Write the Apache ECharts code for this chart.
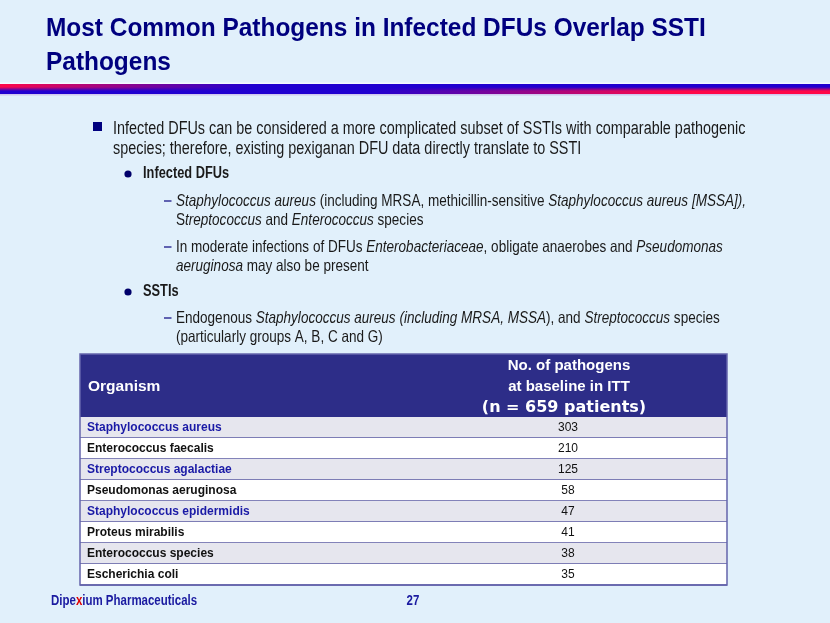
<!DOCTYPE html>
<html>
<head>
<meta charset="utf-8">
<script src="https://cdn.jsdelivr.net/npm/echarts@6/dist/echarts.min.js"></script>
<style>
html,body{margin:0;padding:0;background:#E1F0FB;}
#main{width:830px;height:623px;}
</style>
</head>
<body>
<div id="main"></div>
<script>
// ---- data ----
var organisms = [
  'Staphylococcus aureus',
  'Enterococcus faecalis',
  'Streptococcus agalactiae',
  'Pseudomonas aeruginosa',
  'Staphylococcus epidermidis',
  'Proteus mirabilis',
  'Enterococcus species',
  'Escherichia coli'
];
var pathogenCounts = [303, 210, 125, 58, 47, 41, 38, 35];
var headerLeft = 'Organism';
var headerRight = ['No. of pathogens', 'at baseline in ITT', '(n = 659 patients)'];
var titleLines = ['Most Common Pathogens in Infected DFUs Overlap SSTI', 'Pathogens'];

var SANS = '"Liberation Sans", Arial, sans-serif';
var NAVY = '#00007F';
var BODY = '#1A1A1A';

var chart = echarts.init(document.getElementById('main'));

function mix(a, b, t) {
  var pa = [parseInt(a.substr(1,2),16), parseInt(a.substr(3,2),16), parseInt(a.substr(5,2),16)];
  var pb = [parseInt(b.substr(1,2),16), parseInt(b.substr(3,2),16), parseInt(b.substr(5,2),16)];
  return 'rgb(' + pa.map(function(v,i){return Math.round(v + (pb[i]-v)*t);}).join(',') + ')';
}
function clamp(v){return Math.max(0, Math.min(1, v));}

var RED = '#FF0848', BLUE = '#2000D0';
var stripe = [];
var N = 83;
for (var i = 0; i < N; i++) {
  var t = (i + 0.5) / N;
  var topRed = clamp(1 - t / 0.3);
  var botRed = clamp((t - 0.45) / 0.35);
  var cTop = mix(BLUE, RED, topRed), cBot = mix(BLUE, RED, botRed);
  stripe.push({
    type: 'rect', silent: true,
    shape: {x: i * 10, y: 84, width: 10.5, height: 10},
    style: {fill: new echarts.graphic.LinearGradient(0,0,0,1,[
      {offset: 0, color: cTop},
      {offset: 0.3, color: cTop},
      {offset: 0.7, color: cBot},
      {offset: 1, color: cBot}
    ])}
  });
}

function makeRich(size) {
  return {i: {fontStyle: 'italic', fontFamily: SANS, fontSize: size, fill: BODY}};
}
function narrowText(x, y, text, size, scale, opts) {
  opts = opts || {};
  return {
    type: 'text', silent: true, x: x, y: y, scaleX: scale, z: 10,
    style: {text: text, fontFamily: SANS, fontSize: size, fontWeight: opts.bold ? 'bold' : 'normal',
      fill: opts.fill || BODY, align: opts.align || 'left', verticalAlign: 'middle', rich: opts.rich || makeRich(size)}
  };
}
function lvl1(y, text) { return narrowText(113, y, text, 18, 0.80); }
function lvl2(y, text) { return narrowText(143, y, text, 16, 0.80, {bold: true}); }
function lvl3(y, text) { return narrowText(176, y, text, 16.5, 0.82); }
function dash(y) {
  return {type: 'rect', silent: true, shape: {x: 164, y: y - 0.75, width: 7.5, height: 1.5}, style: {fill: '#333399'}};
}
function dot(y) {
  return {type: 'circle', silent: true, shape: {cx: 128, cy: y, r: 3.6}, style: {fill: '#00006A'}};
}

var graphics = [
  narrowText(46, 28.5, titleLines[0], 26.5, 0.922, {bold: true, fill: NAVY}),
  narrowText(46, 63, titleLines[1], 26.5, 0.922, {bold: true, fill: NAVY}),
  {type: 'rect', silent: true, shape: {x: 0, y: 82.5, width: 830, height: 1.5}, style: {fill: '#F4F8FF'}},
  {type: 'rect', silent: true, shape: {x: 0, y: 94, width: 830, height: 1.5}, style: {fill: '#D0C8EE'}},
  // level-1 bullet
  {type: 'rect', silent: true, shape: {x: 93, y: 122, width: 9, height: 9}, style: {fill: NAVY}},
  lvl1(129, 'Infected DFUs can be considered a more complicated subset of SSTIs with comparable pathogenic'),
  lvl1(149, 'species; therefore, existing pexiganan DFU data directly translate to SSTI'),
  dot(174), lvl2(174, 'Infected DFUs'),
  dash(201), lvl3(201, '{i|Staphylococcus aureus} (including MRSA, methicillin-sensitive {i|Staphylococcus aureus [MSSA]),}'),
  lvl3(220, 'S{i|treptococcus} and {i|Enterococcus} species'),
  dash(247), lvl3(247, 'In moderate infections of DFUs {i|Enterobacteriaceae}, obligate anaerobes and {i|Pseudomonas}'),
  lvl3(266, '{i|aeruginosa} may also be present'),
  dot(292), lvl2(292, 'SSTIs'),
  dash(318), lvl3(318, 'Endogenous {i|Staphylococcus aureus (including MRSA, MSSA}), and {i|Streptococcus} species'),
  lvl3(337, '(particularly groups A, B, C and G)'),
  // table header
  {type: 'rect', silent: true, shape: {x: 80, y: 354, width: 647, height: 63}, style: {fill: '#2D2D88'}},
  {type: 'text', silent: true, x: 88, y: 387, style: {text: headerLeft, fontFamily: SANS, fontSize: 15.5, fontWeight: 'bold', fill: '#FFFFFF', verticalAlign: 'middle'}},
  {type: 'text', silent: true, x: 569, y: 366, style: {text: headerRight[0], fontFamily: SANS, fontSize: 15, fontWeight: 'bold', fill: '#FFFFFF', align: 'center', verticalAlign: 'middle'}},
  {type: 'text', silent: true, x: 569, y: 387, style: {text: headerRight[1], fontFamily: SANS, fontSize: 15, fontWeight: 'bold', fill: '#FFFFFF', align: 'center', verticalAlign: 'middle'}},
  {type: 'text', silent: true, x: 564, y: 408, style: {text: headerRight[2], fontFamily: '"DejaVu Sans", Verdana, sans-serif', fontSize: 16, fontWeight: 'bold', fill: '#FFFFFF', align: 'center', verticalAlign: 'middle'}},
  // outer border
  {type: 'rect', silent: true, z: 100, shape: {x: 80, y: 354, width: 647, height: 231}, style: {fill: null, stroke: '#6464AC', lineWidth: 1.5}},
  // footer
  narrowText(51, 601, 'Dipe{x|x}ium Pharmaceuticals', 14, 0.82, {bold: true, fill: '#1A1AA0',
    rich: {x: {fill: '#E00000', fontFamily: SANS, fontSize: 14, fontWeight: 'bold'}}}),
  narrowText(413, 601, '27', 14, 0.82, {bold: true, fill: '#1A1AA0', align: 'center'})
].concat(stripe);

var option = {
  backgroundColor: '#E1F0FB',
  animation: false,
  graphic: graphics,
  grid: {left: 80, top: 417, width: 647, height: 168, containLabel: false},
  xAxis: {type: 'value', min: 0, max: 400, show: false},
  yAxis: {type: 'category', data: organisms, inverse: true, show: false},
  series: [{
    type: 'custom',
    data: pathogenCounts.map(function (c, i) { return [c, organisms[i]]; }),
    encode: {x: 0, y: 1},
    renderItem: function (params, api) {
      var cs = params.coordSys;
      var idx = api.value(1);
      var yc = api.coord([0, idx])[1];
      var h = api.size([0, 1])[1];
      var shaded = idx % 2 === 0;
      var blueText = idx === 0 || idx === 2 || idx === 4;
      return {
        type: 'group',
        children: [
          {type: 'rect', shape: {x: cs.x, y: yc - h / 2, width: cs.width, height: h},
            style: {fill: shaded ? '#E6E6EE' : '#FFFFFF'}},
          {type: 'line', shape: {x1: cs.x, y1: yc + h / 2, x2: cs.x + cs.width, y2: yc + h / 2},
            style: {stroke: '#5A5AA2', lineWidth: 1.5}},
          {type: 'text', x: cs.x + 7, y: yc,
            style: {text: organisms[idx], fontFamily: SANS, fontSize: 12, fontWeight: 'bold',
              fill: blueText ? '#1A1AA6' : '#111111', verticalAlign: 'middle'}},
          {type: 'text', x: cs.x + 488, y: yc,
            style: {text: String(api.value(0)), fontFamily: SANS, fontSize: 12,
              fill: '#111111', align: 'center', verticalAlign: 'middle'}}
        ]
      };
    }
  }]
};
chart.setOption(option);
</script>
</body>
</html>
